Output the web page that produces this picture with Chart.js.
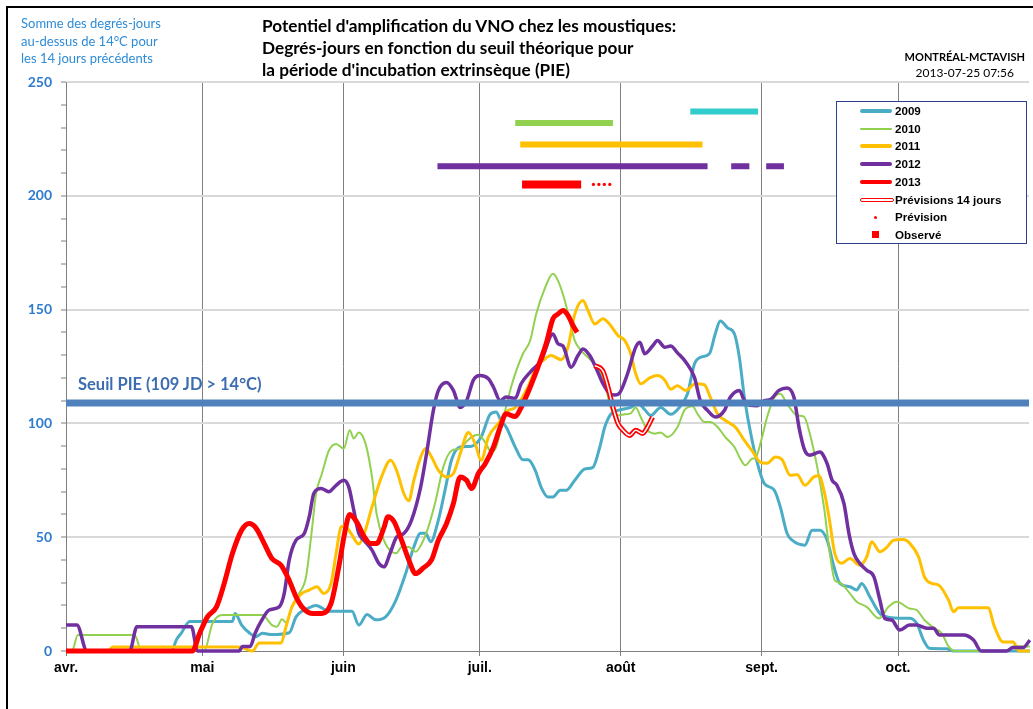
<!DOCTYPE html>
<html>
<head>
<meta charset="utf-8">
<script src="https://cdn.jsdelivr.net/npm/chart.js@4.4.0/dist/chart.umd.min.js"></script>
<style>
body { margin: 0; background: #fff; }
#wrap { position: relative; width: 1033px; height: 709px; overflow: hidden; background: #fff; }
#frame { position: absolute; left: 6px; top: 6px; width: 1100px; height: 800px; border-left: 2px solid #000; border-top: 2px solid #000; }
#chartBox { position: absolute; left: 0; top: 0; width: 1033px; height: 709px; }
.txt { position: absolute; white-space: nowrap; }
#ylab { left: 21px; top: 15px; color: #2E8BD6; font: 13px Lato, sans-serif; line-height: 17.5px; }
#title { left: 262px; top: 15px; color: #000; font: bold 17.2px Lato, sans-serif; line-height: 22px; }
#station { right: 8px; top: 49px; font: bold 11px Lato, sans-serif; color: #000; text-align: center; line-height: 16px; }
#station span { font-weight: normal; font-size: 12px; }
#seuil { left: 78px; top: 374px; color: #3C6DB0; font: bold 16.5px Lato, sans-serif; }
#legend { position: absolute; left: 836px; top: 101px; width: 189px; height: 141px; background: #fff; border: 1px solid #2F3F8F; }
.row { position: absolute; left: 0; height: 16px; width: 189px; }
.sw { position: absolute; left: 23px; width: 32px; }
.lab { position: absolute; left: 58px; top: 1px; font: bold 11.6px "Liberation Sans", Arial, sans-serif; color: #000; }
</style>
</head>
<body>
<div id="wrap">
  <div id="frame"></div>
  <div id="chartBox"><canvas id="chartVNO"></canvas></div>
  <div class="txt" id="ylab">Somme des degrés-jours<br>au-dessus de 14°C pour<br>les 14 jours précédents</div>
  <div class="txt" id="title">Potentiel d'amplification du VNO chez les moustiques:<br>Degrés-jours en fonction du seuil théorique pour<br>la période d'incubation extrinsèque (PIE)</div>
  <div class="txt" id="station">MONTRÉAL-MCTAVISH<br><span>2013-07-25 07:56</span></div>
  <div class="txt" id="seuil">Seuil PIE (109 JD &gt; 14°C)</div>
  <div id="legend"></div>
</div>
<script>
// axe des x : jours depuis le 1er avril
var monthDays = [0, 30, 61, 91, 122, 153, 183];
var monthLabels = ["avr.", "mai", "juin", "juil.", "août", "sept.", "oct."];
var seuilPIE = 109;

var days2009 = [0,23.2,24.3,25.4,27.2,36.6,37.2,38.6,40.3,41.8,43.2,45.3,49.1,50.6,53.5,55.0,57.8,62.9,64.4,66.2,68.1,70.3,72.5,74.7,76.5,78.0,79.1,80.2,81.9,83.5,84.8,86.7,89.2,91.3,93.3,94.6,95.7,96.8,98.8,100.5,101.6,103.2,104.5,106.0,107.1,108.7,110.0,111.9,114.1,115.9,117.4,118.5,119.8,122.0,124.2,125.7,127.3,128.6,130.8,133.0,134.9,136.7,138.2,139.5,141.5,142.8,143.9,145.5,147.0,148.1,149.2,150.9,152.5,153.6,155.8,157.1,158.6,159.7,162.5,164.1,165.8,167.4,168.9,170.2,172.4,173.9,175.0,176.8,179.4,183.4,185.5,187.1,188.6,189.9,193.6,195.2,212];
var vals2009 = [0,0,5,8,13,13,16.5,11.5,8,6.3,7.8,7.2,8,15,19,20,17.5,17.5,11.4,16,13.7,15,22,34,45.7,51.7,51.7,48,57.5,72,84,89.6,90,94,104,105,101,98.4,89.6,84,84,79.4,72,67.7,67.7,70.6,70.6,75,80,80.7,89.6,98.4,104,106,107,109,106,103.5,107,104,107,113,126,129,130.6,139.4,145,142,139.4,129,111.5,92.5,79.4,73.5,70.6,63.3,51.6,48.7,46.5,53,53,48.7,37,29.7,28.2,26.8,29.7,23.8,15.8,14.4,14.4,12.2,4.8,1.2,1,0,0];

var days2010 = [0,1.3,2.6,15.1,16.6,30.4,32.2,34.4,43.2,45.3,46.4,47.5,48.4,49.7,51.3,52.8,53.9,55.0,56.3,57.8,59.4,61.1,62.4,63.3,64.4,65.9,67.3,68.3,69.9,71.6,72.7,73.8,75.4,76.9,78.2,79.7,81.3,83.0,84.8,86.7,88.1,89.2,90.7,92.4,93.5,94.6,96.6,97.9,99.0,100.5,102.1,103.4,105.4,107.1,108.2,109.7,110.8,111.9,113.3,114.8,116.3,117.6,118.7,119.8,121.4,122.9,124.2,125.3,126.4,127.9,129.5,130.8,132.3,134.5,136.0,137.8,138.9,140.4,141.7,143.3,145.0,147.0,148.3,149.4,150.9,151.6,153.1,154.2,155.8,157.1,158.6,160.8,162.3,163.6,165.2,166.7,168.0,169.1,170.2,172.4,173.9,176.1,178.8,180.9,182.7,185.5,187.1,188.8,191.0,192.6,194.1,195.4,206.8,208.3,212];
var vals2010 = [0,0,7,7,0,0,12,15.8,15.8,11.4,10.7,14,12.5,19.4,25.3,32.6,50,69,78,88,91,89,97,93.4,96,91,76.5,60.4,48.7,43.6,43,45.7,45.7,43.6,47,54.5,66,81,88,89,92,94,95,91,87.4,89.6,105.7,116,123,130.6,136.4,148,159.8,165.7,162.7,154,145,136.4,132,129,126,121.8,116,107,103.5,104,104.4,107,102.8,97,95.5,96,94,98.4,105.7,107.5,104.2,100.6,100.6,98.4,94,89.6,84.5,81.6,84.5,84.8,94,102.8,111.5,113,108.6,103.5,103,95.5,81,63.3,42.8,31,30,25.3,21.6,19.4,14.3,19.4,21.6,18.7,18,13.6,10,7.8,2,0,0,2,2];

var days2011 = [0,9.2,10.3,37.5,39.2,41.0,42.5,47.3,48.4,49.7,51.9,53.5,55.2,56.7,58.3,59.4,60.5,61.3,62.7,64.4,65.5,67.3,69.4,71.4,72.7,74.3,75.4,76.5,78.0,79.1,80.4,81.9,83.7,85.2,86.7,88.5,90.0,91.3,92.9,95.1,97.3,98.8,101.6,103.4,104.9,106.7,108.9,110.4,111.9,113.7,114.8,116.3,118.1,119.6,121.4,122.9,124.2,125.3,126.4,128.4,130.1,131.7,133.0,134.5,136.3,138.4,140.4,141.7,143.3,145.0,147.2,149.2,150.9,152.7,154.2,156.0,157.5,159.3,160.8,162.5,164.5,165.6,166.7,167.8,169.1,170.6,172.4,174.6,176.1,177.2,179.0,180.5,182.0,184.2,185.5,187.5,188.8,190.4,191.9,194.1,195.2,196.3,202.8,204.2,206.1,208.3,209.6,212];
var vals2011 = [0,0,1.8,1.8,1.2,0,3.5,3.5,10.7,19.4,25.3,26.8,28.2,25.3,29.7,42.8,54.5,55,51.6,47,51,63.3,76.5,83.8,79.4,69.2,66,75,85.2,89,85.2,79.4,76.5,78,86.7,96,91,83.8,94,100,105.7,107,116,124.7,127.6,129.8,128,133.5,148,154,149.6,143.7,146,143.5,138.6,136.4,130.6,121.8,117.4,120,121,119,115,116.5,114.5,117.4,117,111.5,104.2,101.3,98.4,92.5,88,83,82.5,85.2,84,77.2,77.5,72.8,76.5,77,70.6,59,42.8,38.5,40.6,37.7,41.4,48,43.6,45.5,48.7,49,47.5,41.4,32.6,29.7,29,22.4,17.2,19,19,10.7,4,4,0,0];

var days2012 = [0,2.4,4.6,14.0,15.6,27.6,28.9,38.1,38.8,40.5,41.6,42.9,44.7,46.9,48.0,49.1,50.6,52.4,53.5,54.5,56.1,57.8,59.4,61.1,62.2,63.3,64.4,65.5,67.3,68.8,69.9,71.4,72.7,74.3,76.0,78.0,79.3,80.8,81.9,83.7,85.2,86.7,88.1,89.6,91.1,92.9,94.0,95.5,96.8,98.8,100.1,102.3,104.5,107.1,108.2,109.3,111.1,112.6,113.7,115.2,116.5,118.1,119.6,120.7,121.8,123.5,125.3,126.2,127.3,129.0,130.1,131.7,133.0,134.5,136.3,138.2,139.5,141.1,142.8,144.8,146.1,148.1,149.2,150.5,152.0,153.6,154.9,156.8,158.6,160.1,161.2,162.5,163.6,165.8,167.4,168.5,169.5,171.1,172.2,173.3,174.6,176.1,177.7,179.0,180.1,181.6,183.4,185.5,187.1,189.3,190.8,192.1,197.4,199.6,201.3,206.8,208.3,210.5,212];
var vals2012 = [11.4,11.4,0,0,10.7,10.7,0,0,2,2,7.8,13,18,19.4,25.3,40,48.7,51.6,59,69.2,71.4,70,72.8,75,72,61.8,51.6,48.7,44.3,38.5,37,43.6,50,51.6,57.5,72,86.7,105.7,114.5,118,114.5,107,110,119,121,119.6,116,110,111.6,111,117.4,123,127.6,139.3,135,134,124.7,129.8,132.7,129.8,124.7,117.4,113,112.5,113.5,121.8,133.5,135.7,130.6,134,136.4,133.5,134,131,127,120.3,110,105.7,102.8,105.7,111.5,114.5,110,108,107.8,110,110.5,114.5,115.6,111.5,98.4,88,86,87.4,82.3,75,73,64.8,51.6,42.8,38.5,35.5,32.6,22.4,14.3,13.6,9.2,11.4,11.4,10,10,7,7,4.8,0,0,1.5,1.5,4.8];

var days2013 = [0,27.8,29.4,31.1,33.1,34.8,36.6,38.6,40.3,41.8,43.6,45.3,47.3,49.1,50.6,51.9,54.1,56.3,58.3,60.0,61.3,62.4,64.0,65.5,67.0,68.3,69.9,70.8,72.1,73.8,75.4,76.9,78.6,80.4,81.9,83.7,85.2,86.7,88.1,89.2,90.7,92.2,94.0,95.5,96.8,98.8,100.1,102.1,103.8,105.6,107.1,108.2,109.3,110.4,111.5,112.4];
var vals2013 = [0,0,7.8,15,19.4,29.7,42.8,53,56,54,47.2,40.6,37.7,31,23.8,19.4,16.5,16.5,20.9,37,52,60,56.5,50.5,47.2,47.2,54,59,57,48.7,40,34,36.5,40,48.7,56,64.8,76.5,75,71.4,78,82.3,89.6,98.4,104.2,103,107,116,124.7,135,146,148,149.6,147.5,143,140];

var daysPrev = [116.3,118.1,119.2,120.3,121.4,122.5,124.0,125.3,126.8,127.9,129.0];
var valsPrev = [125.4,123,116,107,100,97,94.7,97,95.6,98.4,102.8];

// périodes au-dessus du seuil (barres du haut) : [début, fin] en jours
var periode2009 = [[137.3, 152.2]];
var periode2010 = [[98.8, 120.3]];
var periode2011 = [[99.9, 140.0]];
var periode2012 = [[81.7, 141.1], [146.3, 150.3], [154.0, 157.9]];
var periode2013 = [[100.3, 113.3]];
var prevision2013 = [116.0, 117.2, 118.4, 119.6];
var niveauxPeriodes = [237, 232, 222.5, 213, 205];

var colors = { y2009: "#4BACC6", y2010: "#92D050", y2011: "#FFC000", y2012: "#7030A0", y2013: "#FF0000", p2009: "#33CCCC" };

function pts(d, v) {
    return d.map(function (x, i) { return { x: x, y: v[i] }; });
}

function bars(periods, level) {
    var out = [];
    periods.forEach(function (p, i) {
        if (i > 0) out.push({ x: (periods[i - 1][1] + p[0]) / 2, y: null });
        out.push({ x: p[0], y: level });
        out.push({ x: p[1], y: level });
    });
    return out;
}

function lineSet(data, color, width) {
    return {
        data: data, borderColor: color, backgroundColor: color, borderWidth: width,
        pointRadius: 0, cubicInterpolationMode: "monotone", fill: false, clip: 8
    };
}

function barSet(data, color, width) {
    return { data: data, borderColor: color, borderWidth: width, pointRadius: 0, borderCapStyle: "butt", fill: false, spanGaps: false };
}

var datasets = [
    { data: [{ x: 0, y: seuilPIE }, { x: 212, y: seuilPIE }], borderColor: "#4F81BD", borderWidth: 7, pointRadius: 0 },
    barSet(bars(periode2009, niveauxPeriodes[0]), colors.p2009, 6),
    barSet(bars(periode2010, niveauxPeriodes[1]), colors.y2010, 6),
    barSet(bars(periode2011, niveauxPeriodes[2]), colors.y2011, 6),
    barSet(bars(periode2012, niveauxPeriodes[3]), colors.y2012, 6),
    barSet(bars(periode2013, niveauxPeriodes[4]), colors.y2013, 8),
    { data: prevision2013.map(function (x) { return { x: x, y: niveauxPeriodes[4] }; }), showLine: false, pointRadius: 1.6, pointBorderWidth: 0, pointBackgroundColor: colors.y2013 },
    lineSet(pts(daysPrev, valsPrev), "#FFFFFF", 1.5),
    lineSet(pts(daysPrev, valsPrev), colors.y2013, 5),
    lineSet(pts(days2013, vals2013), colors.y2013, 5),
    lineSet(pts(days2012, vals2012), colors.y2012, 3.5),
    lineSet(pts(days2011, vals2011), colors.y2011, 3),
    lineSet(pts(days2010, vals2010), colors.y2010, 2),
    lineSet(pts(days2009, vals2009), colors.y2009, 3)
];

new Chart(document.getElementById("chartVNO"), {
    type: "line",
    data: { datasets: datasets },
    options: {
        responsive: true,
        maintainAspectRatio: false,
        animation: false,
        devicePixelRatio: 1,
        layout: { padding: { top: 82, right: 0, left: 0, bottom: 0 } },
        plugins: { legend: { display: false }, tooltip: { enabled: false } },
        scales: {
            x: {
                type: "linear", min: 0, max: 211.8,
                afterBuildTicks: function (scale) {
                    scale.ticks = monthDays.map(function (v) { return { value: v }; });
                },
                afterFit: function (scale) { scale.height = 58; },
                ticks: {
                    autoSkip: false, maxRotation: 0, padding: 4, color: "#000",
                    font: { family: "Liberation Sans", size: 14, weight: "bold" },
                    callback: function (v, i) { return monthLabels[i]; }
                },
                grid: { color: "#7F7F7F", lineWidth: 1, tickLength: 5 },
                border: { color: "#7F7F7F" }
            },
            y: {
                min: 0, max: 250,
                afterFit: function (scale) { scale.width = 66; },
                ticks: {
                    stepSize: 10, autoSkip: false, padding: 9, color: "#2E7BCF",
                    font: { family: "Lato", size: 14, weight: "bold" },
                    callback: function (v) { return v % 50 === 0 ? v : ""; }
                },
                grid: {
                    color: function (ctx) { return ctx.tick.value % 50 === 0 && ctx.tick.value > 0 ? "#D9D9D9" : "rgba(0,0,0,0)"; },
                    lineWidth: 2, tickLength: 5, tickColor: "#7F7F7F", tickWidth: 1
                },
                border: { color: "#7F7F7F" }
            }
        }
    }
});

// légende
var legendItems = [
    { label: "2009", color: colors.y2009, h: 4 },
    { label: "2010", color: colors.y2010, h: 2 },
    { label: "2011", color: colors.y2011, h: 4 },
    { label: "2012", color: colors.y2012, h: 4 },
    { label: "2013", color: colors.y2013, h: 4 },
    { label: "Prévisions 14 jours", color: colors.y2013, h: 4, hollow: true },
    { label: "Prévision", color: colors.y2013, dot: true },
    { label: "Observé", color: colors.y2013, square: true }
];
var legend = document.getElementById("legend");
legendItems.forEach(function (item, i) {
    var row = document.createElement("div");
    row.className = "row";
    row.style.top = (1 + i * 17.7) + "px";
    var sw = document.createElement("div");
    sw.className = "sw";
    if (item.dot) {
        sw.style.cssText = "left:37px;top:7px;width:3px;height:3px;border-radius:2px;background:" + item.color;
    } else if (item.square) {
        sw.style.cssText = "left:35px;top:4px;width:7px;height:7px;background:" + item.color;
    } else if (item.hollow) {
        sw.style.cssText = "top:6px;height:2px;background:#fff;border:1.5px solid " + item.color + ";border-radius:2px";
    } else {
        sw.style.top = (8 - item.h / 2) + "px";
        sw.style.height = item.h + "px";
        sw.style.background = item.color;
        sw.style.borderRadius = "2px";
    }
    var lab = document.createElement("div");
    lab.className = "lab";
    lab.textContent = item.label;
    row.appendChild(sw);
    row.appendChild(lab);
    legend.appendChild(row);
});
</script>
</body>
</html>
